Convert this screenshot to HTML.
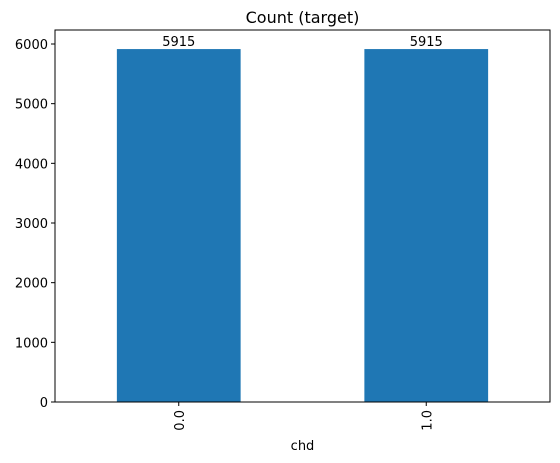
<!DOCTYPE html>
<html><head><meta charset="utf-8"><style>
body{margin:0;background:#fff;}
svg{display:block;font-family:"DejaVu Sans","Liberation Sans",sans-serif;}
</style></head><body>
<svg id="chart" width="560" height="463"></svg>
<script>
const categories=["0.0","1.0"];
const counts=[5915,5915];
const yTicks=[0,1000,2000,3000,4000,5000,6000];
const ns="http://www.w3.org/2000/svg";
const svg=document.getElementById('chart');
const L=55,R=550,T=30,B=402;
const xmin=-0.5,xmax=1.5,ymax=6000*(402-30)/(402-44);
function xs(v){return L+(v-xmin)/(xmax-xmin)*(R-L);}
function ys(v){return B-v/ymax*(B-T);}
function mk(tag,attrs,text){const e=document.createElementNS(ns,tag);for(const k in attrs)e.setAttribute(k,attrs[k]);if(text!==undefined)e.textContent=text;svg.appendChild(e);return e;}
const bw=0.5;
categories.forEach((c,i)=>{
  const x0=xs(i-bw/2),x1=xs(i+bw/2);
  const r=mk('rect',{x:x0,y:ys(counts[i]),width:x1-x0,height:B-ys(counts[i]),fill:'#1f77b4'});
  
  
  const t=mk('text',{x:xs(i),y:ys(counts[i])-3,'text-anchor':'middle','font-size':'13',fill:'#000'},String(counts[i]));
  
  
  const tk=mk('line',{x1:xs(i),x2:xs(i),y1:B,y2:B+4,stroke:'#000','stroke-width':1});
  
  
  const tl=mk('text',{x:0,y:0,'text-anchor':'end','font-size':'13',transform:`translate(${xs(i)+5},${B+8}) rotate(-90)`},c);
  
  
});
yTicks.forEach(v=>{
  const tk=mk('line',{x1:L-4,x2:L,y1:ys(v),y2:ys(v),stroke:'#000','stroke-width':1});
  
  
  const tl=mk('text',{x:L-7,y:ys(v)+5,'text-anchor':'end','font-size':'13'},String(v));
  
  
});
const f=mk('rect',{x:L,y:T,width:R-L,height:B-T,fill:'none',stroke:'#000','stroke-width':1});


const ti=mk('text',{x:(L+R)/2,y:23,'text-anchor':'middle','font-size':'16'},'Count (target)');


const xl=mk('text',{x:(L+R)/2,y:450,'text-anchor':'middle','font-size':'13'},'chd');


</script>
</body></html>
